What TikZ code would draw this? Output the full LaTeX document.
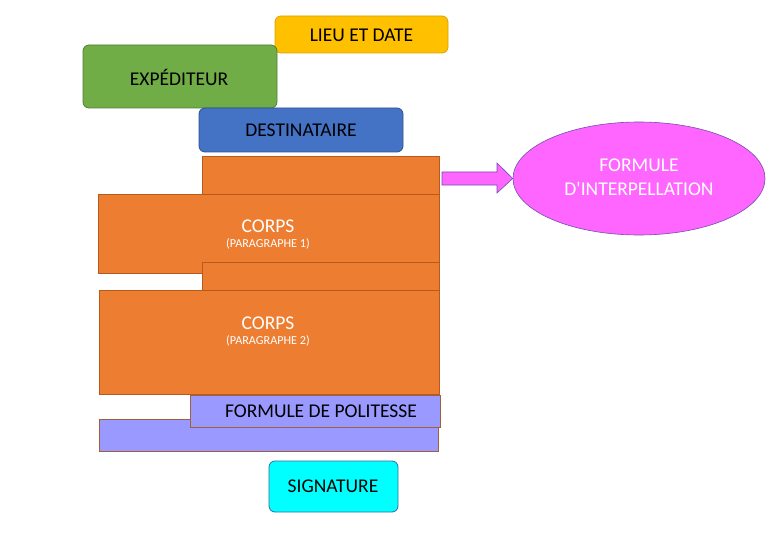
\documentclass[tikz,border=0pt]{standalone}
\usepackage{fontspec}
\setmainfont{Carlito}
\usetikzlibrary{shapes.geometric,shapes.arrows}
\definecolor{orfill}{HTML}{ED7D31}
\definecolor{ordraw}{HTML}{B85A1E}
\definecolor{pufill}{HTML}{9999FF}
\definecolor{pudraw}{HTML}{A0603A}
\definecolor{yefill}{HTML}{FFC000}
\definecolor{yedraw}{HTML}{D9A300}
\definecolor{grfill}{HTML}{70AD47}
\definecolor{grdraw}{HTML}{507E32}
\definecolor{blfill}{HTML}{4472C4}
\definecolor{bldraw}{HTML}{2F528F}
\definecolor{cyfill}{HTML}{00FFFF}
\definecolor{cydraw}{HTML}{2F6F9F}
\definecolor{pkfill}{HTML}{FF66FF}
\definecolor{pkdraw}{HTML}{7050B0}
\tikzset{
  sq/.style={rectangle, anchor=north west, inner sep=0pt, outer sep=0pt, line width=0.6pt},
  rbox/.style={rectangle, rounded corners=6pt, anchor=north west, inner sep=0pt, outer sep=0pt, line width=0.8pt},
  otext/.style={inner sep=0pt, font=\fontsize{19.5}{21}\selectfont, text=white},
  stext/.style={inner sep=0pt, font=\fontsize{12.2}{13}\selectfont, text=white},
}
\begin{document}
\begin{tikzpicture}[x=1pt,y=-1pt]
\useasboundingbox (0,0) rectangle (770,548);
% rounded header boxes
\node[rbox, fill=yefill, draw=yedraw, minimum width=173pt, minimum height=37pt] (lieu) at (275,16) {};
\node[otext, text=black] (lieut) at (361.5,35) {LIEU ET DATE};
\node[rbox, fill=grfill, draw=grdraw, minimum width=194pt, minimum height=63pt] (exp) at (83,45) {};
\node[otext, text=black] (expt) at (179,77) {EXPÉDITEUR};
\node[rbox, fill=blfill, draw=bldraw, minimum width=204pt, minimum height=44pt] (dest) at (199,108) {};
\node[otext, text=black] (destt) at (301,130) {DESTINATAIRE};
% orange blocks
\node[sq, fill=orfill, draw=ordraw, minimum width=237pt, minimum height=38pt] (strip1) at (202,156) {};
\node[sq, fill=orfill, draw=ordraw, minimum width=341pt, minimum height=79pt] (corps1) at (98,194) {};
\node[sq, fill=orfill, draw=ordraw, minimum width=237pt, minimum height=28pt] (strip2) at (202,262) {};
\node[sq, fill=orfill, draw=ordraw, minimum width=340pt, minimum height=104pt] (corps2) at (99,290) {};
\node[otext] (c1t) at (268,226) {CORPS};
\node[stext] (c1s) at (268,244) {(PARAGRAPHE 1)};
\node[otext] (c2t) at (268,323) {CORPS};
\node[stext] (c2s) at (268,341) {(PARAGRAPHE 2)};
% purple blocks
\node[sq, fill=pufill, draw=pudraw, minimum width=339pt, minimum height=32pt] (strip3) at (99,419) {};
\node[sq, fill=pufill, draw=pudraw, minimum width=250pt, minimum height=32pt] (polit) at (190,395) {};
\node[otext, text=black] (politt) at (321,411) {FORMULE DE POLITESSE};
% signature
\node[rbox, fill=cyfill, draw=cydraw, minimum width=129pt, minimum height=51pt] (sig) at (269,461) {};
\node[otext, text=black] (sigt) at (333,486.5) {SIGNATURE};
% ellipse
\node[ellipse, fill=pkfill, draw=pkdraw, line width=0.6pt, minimum width=252pt, minimum height=113pt, inner sep=0pt] (interp) at (639,178.5) {};
\node[otext, align=center] (interpt) at (639,177) {FORMULE\\[3pt]D\textquotesingle INTERPELLATION};
% arrow
\draw[fill=pkfill, draw=pkdraw, line width=0.6pt]
  (442,172) -- (497,172) -- (497,163) -- (interp.west) -- (497,193) -- (497,185) -- (442,185) -- cycle;
\end{tikzpicture}
\end{document}
